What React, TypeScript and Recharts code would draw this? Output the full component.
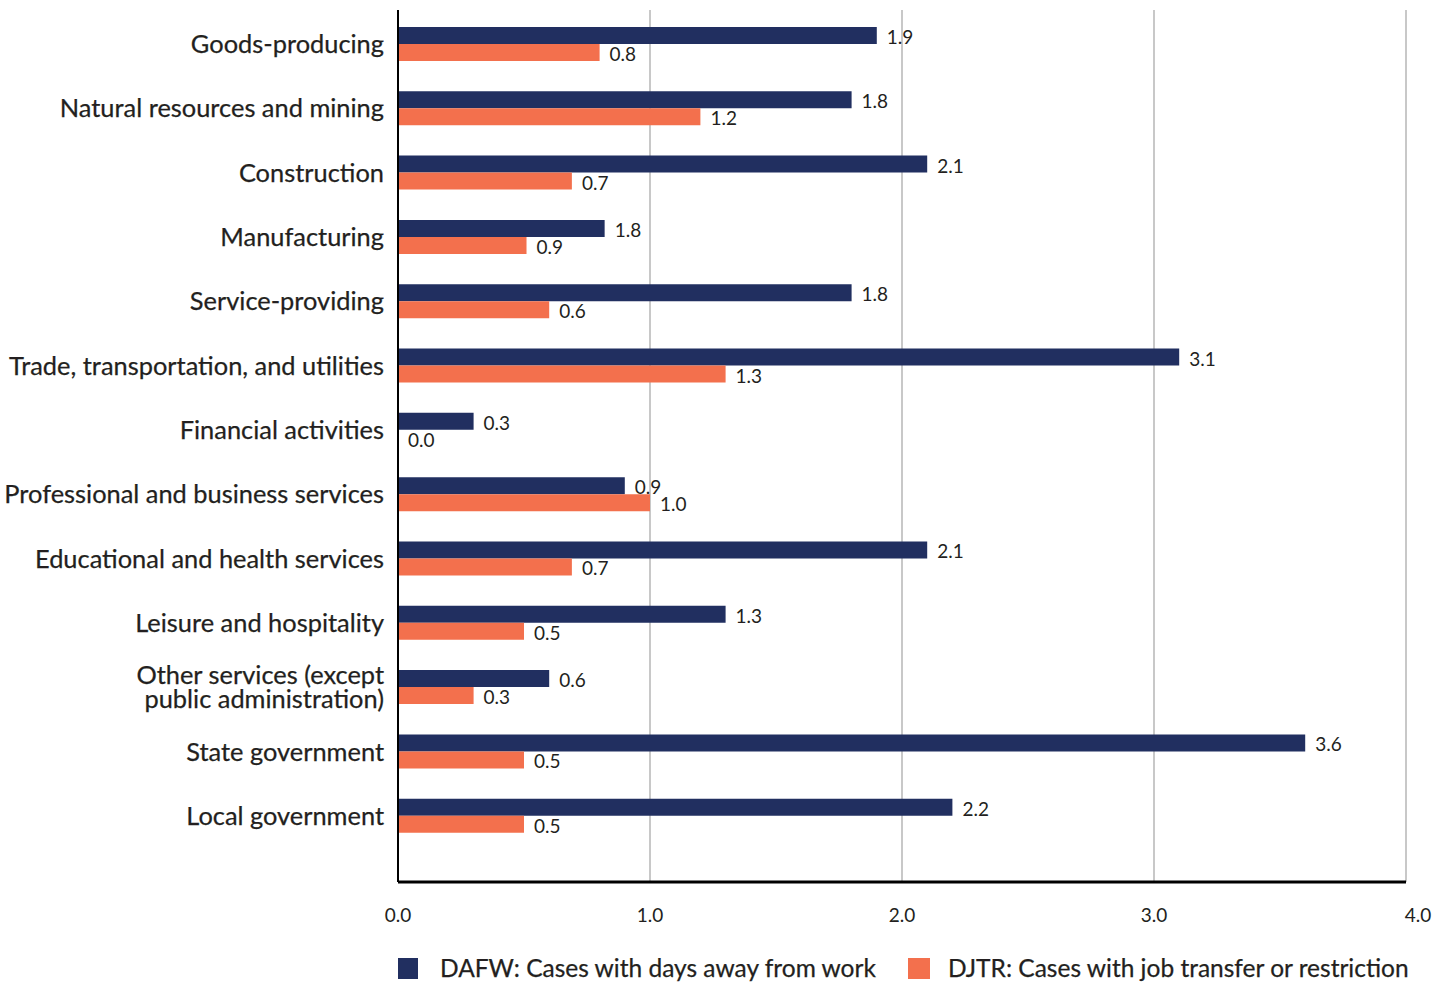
import React from "react";
import {
  BarChart,
  Bar,
  XAxis,
  YAxis,
  CartesianGrid,
  Legend,
  LabelList,
} from "recharts";

const categories = [
  "Goods-producing",
  "Natural resources and mining",
  "Construction",
  "Manufacturing",
  "Service-providing",
  "Trade, transportation, and utilities",
  "Financial activities",
  "Professional and business services",
  "Educational and health services",
  "Leisure and hospitality",
  "Other services (except\npublic administration)",
  "State government",
  "Local government",
];

const dafwValues = [1.9, 1.8, 2.1, 0.82, 1.8, 3.1, 0.3, 0.9, 2.1, 1.3, 0.6, 3.6, 2.2];
const djtrValues = [0.8, 1.2, 0.69, 0.51, 0.6, 1.3, 0.0, 1.0, 0.69, 0.5, 0.3, 0.5, 0.5];
const dafwLabels = ["1.9", "1.8", "2.1", "1.8", "1.8", "3.1", "0.3", "0.9", "2.1", "1.3", "0.6", "3.6", "2.2"];
const djtrLabels = ["0.8", "1.2", "0.7", "0.9", "0.6", "1.3", "0.0", "1.0", "0.7", "0.5", "0.3", "0.5", "0.5"];

const xTicks = [0, 1, 2, 3, 4];
const seriesNames = [
  "DAFW: Cases with days away from work",
  "DJTR: Cases with job transfer or restriction",
];

const NAVY = "#212f60";
const ORANGE = "#f3704d";
const TEXT = "#231f20";
const FONT = "Lato, 'Open Sans', sans-serif";

const data = categories.map((c, i) => ({
  name: c,
  dafw: dafwValues[i],
  djtr: djtrValues[i],
  dafwLabel: dafwLabels[i],
  djtrLabel: djtrLabels[i],
}));

const YTick = (props: any) => {
  const { x, y, payload } = props;
  const lines = String(payload.value).split("\n");
  const lh = 24;
  const start = -((lines.length - 1) * lh) / 2;
  return (
    <g>
      {lines.map((l, i) => (
        <text
          key={i}
          x={x}
          y={y + start + i * lh - 1}
          textAnchor="end"
          dominantBaseline="central"
          fill={TEXT}
          fontSize={25.4}
          fontFamily={FONT}
          stroke={TEXT}
          strokeWidth={0.25}
        >
          {l}
        </text>
      ))}
    </g>
  );
};

const XTick = (props: any) => {
  const { x, y, payload } = props;
  const shift = payload.value === 4 ? 12 : 0;
  return (
    <text
      x={x + shift}
      y={y + 32}
      textAnchor="middle"
      dominantBaseline="central"
      fill={TEXT}
      fontSize={19}
      fontFamily={FONT}
    >
      {Number(payload.value).toFixed(1)}
    </text>
  );
};

const ValueLabel = (props: any) => {
  const vb = props.viewBox || {};
  const x = (props.x ?? vb.x) as number;
  const y = (props.y ?? vb.y) as number;
  const w = (props.width ?? vb.width ?? 0) as number;
  const h = (props.height ?? vb.height ?? 0) as number;
  return (
    <text
      x={x + w + 10}
      y={y + h / 2 + 1}
      textAnchor="start"
      dominantBaseline="central"
      fill={TEXT}
      fontSize={19}
      fontFamily={FONT}
    >
      {props.value}
    </text>
  );
};

const LegendContent = () => (
  <div style={{ position: "relative", width: 1450, height: 40, fontFamily: FONT }}>
    <div style={{ position: "absolute", left: 398, top: 12, width: 20, height: 21, background: NAVY }} />
    <div
      style={{
        position: "absolute",
        left: 440,
        top: 9,
        fontSize: 24.5,
        lineHeight: "26px",
        color: TEXT,
        whiteSpace: "nowrap",
        WebkitTextStroke: "0.25px " + TEXT,
      }}
    >
      {seriesNames[0]}
    </div>
    <div style={{ position: "absolute", left: 908, top: 12, width: 22, height: 21, background: ORANGE }} />
    <div
      style={{
        position: "absolute",
        left: 948,
        top: 9,
        fontSize: 24.5,
        lineHeight: "26px",
        color: TEXT,
        whiteSpace: "nowrap",
        WebkitTextStroke: "0.25px " + TEXT,
      }}
    >
      {seriesNames[1]}
    </div>
  </div>
);

export default function App() {
  return (
    <div style={{ width: 1450, height: 986, background: "#fff" }}>
      <style>{`body{margin:0;}`}</style>
      <BarChart
        width={1450}
        height={986}
        data={data}
        layout="vertical"
        margin={{ top: 10, right: 44, bottom: 0, left: 0 }}
        barGap={0}
      >
        <CartesianGrid horizontal={false} vertical={true} stroke="#c8c8c8" strokeWidth={2} />
        <XAxis
          type="number"
          domain={[0, 4]}
          ticks={xTicks}
          height={64}
          tickLine={false}
          tickSize={0}
          tickMargin={0}
          axisLine={{ stroke: "#000", strokeWidth: 3 }}
          tick={<XTick />}
          interval={0}
        />
        <YAxis
          type="category"
          dataKey="name"
          width={398}
          tickLine={false}
          tickSize={0}
          tickMargin={14}
          axisLine={{ stroke: "#000", strokeWidth: 2 }}
          tick={<YTick />}
          interval={0}
          padding={{ top: 2, bottom: 34 }}
        />
        <Legend verticalAlign="bottom" content={<LegendContent />} wrapperStyle={{ left: 0, width: 1450 }} />
        <Bar dataKey="dafw" name={seriesNames[0]} fill={NAVY} barSize={17} isAnimationActive={false}>
          <LabelList dataKey="dafwLabel" content={<ValueLabel />} />
        </Bar>
        <Bar
          dataKey="djtr"
          name={seriesNames[1]}
          fill={ORANGE}
          barSize={17}
          minPointSize={0.01}
          isAnimationActive={false}
        >
          <LabelList dataKey="djtrLabel" content={<ValueLabel />} />
        </Bar>
      </BarChart>
    </div>
  );
}
